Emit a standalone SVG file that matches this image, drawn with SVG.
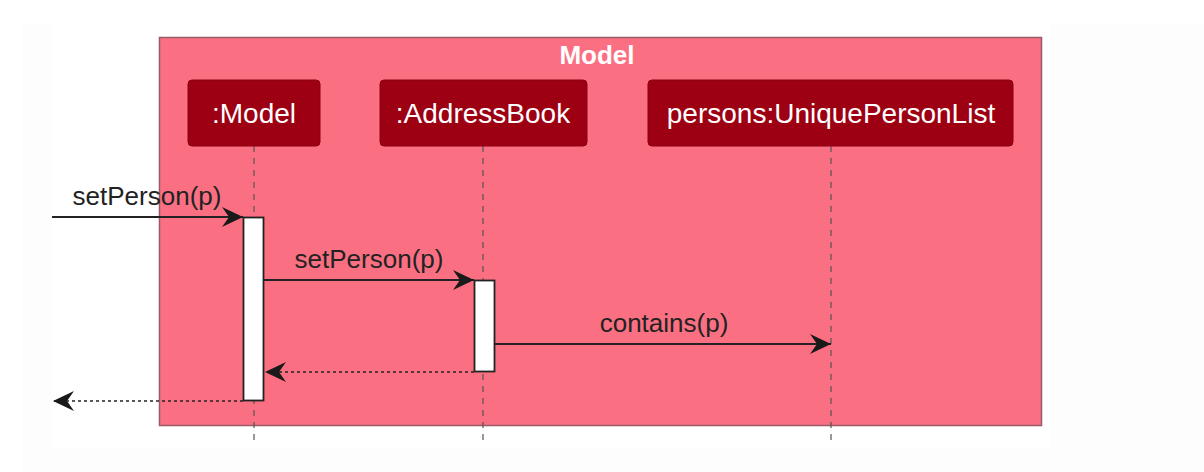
<svg xmlns="http://www.w3.org/2000/svg" width="1204" height="472" viewBox="0 0 1204 472">
<style>
.part rect{fill:#9d0012;stroke:#8a0010;stroke-width:1}
.part text{font-family:"Liberation Sans",Arial,sans-serif;font-size:28px;fill:#ffffff;text-anchor:middle}
.life{stroke:#555;stroke-width:1.2;stroke-dasharray:6,6;fill:none}
.act{fill:#ffffff;stroke:#222;stroke-width:1.8}
.msg{stroke:#222;stroke-width:1.8;fill:none}
.ret{stroke:#222;stroke-width:1.6;fill:none;stroke-dasharray:3,3}
.lbl{font-family:"Liberation Sans",Arial,sans-serif;font-size:26px;fill:#222;text-anchor:middle}
</style>
<defs>
<marker id="ah" markerWidth="24" markerHeight="22" refX="22" refY="11" orient="auto" markerUnits="userSpaceOnUse">
<path d="M22,11 L1,1 L8,11 L1,21 Z" fill="#1a1a1a"/>
</marker>
</defs>
<rect x="22" y="25" width="1182" height="447" fill="#fdfdfd"/>
<rect x="52" y="0" width="998" height="449" fill="#ffffff"/>
<g id="frame">
<rect x="159.5" y="37.5" width="882" height="388" fill="#fa7082" stroke="#9a5a66" stroke-width="1.5"/>
<text x="597" y="64" font-family="Liberation Sans,Arial,sans-serif" font-size="26" font-weight="bold" fill="#ffffff" text-anchor="middle">Model</text>
</g>
<g id="lifelines">
<line class="life" x1="254" y1="146" x2="254" y2="440"/>
<line class="life" x1="483" y1="146" x2="483" y2="440"/>
<line class="life" x1="831" y1="146" x2="831" y2="440"/>
</g>
<g id="p-model" class="part">
<rect x="188" y="80" width="132" height="66" rx="4"/>
<text x="254" y="123">:Model</text>
</g>
<g id="p-addressbook" class="part">
<rect x="380" y="80" width="207" height="66" rx="4"/>
<text x="483" y="123">:AddressBook</text>
</g>
<g id="p-persons" class="part">
<rect x="648" y="80" width="365" height="66" rx="4"/>
<text x="831" y="123">persons:UniquePersonList</text>
</g>
<g id="activations">
<rect class="act" x="243.5" y="217.5" width="20" height="183"/>
<rect class="act" x="474.5" y="280.5" width="20" height="91"/>
</g>
<g id="connectors">
<line class="msg" x1="52" y1="217" x2="243" y2="217" marker-end="url(#ah)"/>
<text class="lbl" x="147" y="205">setPerson(p)</text>
<line class="msg" x1="264" y1="280" x2="474" y2="280" marker-end="url(#ah)"/>
<text class="lbl" x="369" y="268">setPerson(p)</text>
<line class="msg" x1="495" y1="344" x2="831" y2="344" marker-end="url(#ah)"/>
<text class="lbl" x="664" y="332">contains(p)</text>
<line class="ret" x1="474" y1="372" x2="265" y2="372" marker-end="url(#ah)"/>
<line class="ret" x1="243" y1="401" x2="53" y2="401" marker-end="url(#ah)"/>
</g>
</svg>
